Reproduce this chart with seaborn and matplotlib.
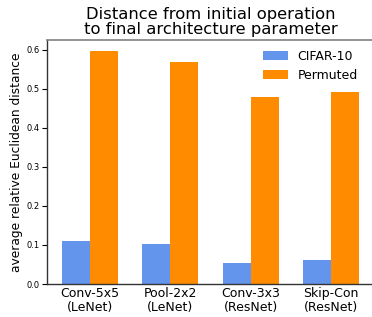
import matplotlib
matplotlib.use("Agg")
import matplotlib.pyplot as plt
import seaborn as sns
import pandas as pd

categories = ["Conv-5x5\n(LeNet)", "Pool-2x2\n(LeNet)", "Conv-3x3\n(ResNet)", "Skip-Con\n(ResNet)"]
series_names = ["CIFAR-10", "Permuted"]
cifar_values = [0.110, 0.102, 0.054, 0.062]
permuted_values = [0.598, 0.568, 0.480, 0.492]
y_ticks = [0.0, 0.1, 0.2, 0.3, 0.4, 0.5, 0.6]

df = pd.DataFrame({
    "cat": categories * 2,
    "series": [series_names[0]] * 4 + [series_names[1]] * 4,
    "value": cifar_values + permuted_values,
})

sns.set_style("white", rc={"text.color": "black", "axes.labelcolor": "black",
                           "xtick.color": "black", "ytick.color": "black"})
plt.rcParams['font.family'] = ['DejaVu Sans']

fig = plt.figure(figsize=(3.72, 3.17), dpi=100)
ax = fig.add_axes([47/372, 33/317, 327/372, 244/317])

sns.barplot(data=df, x="cat", y="value", hue="series", order=categories,
            hue_order=series_names, palette=["#6495ED", "#FF8C00"],
            width=0.7, saturation=1, errorbar=None, linewidth=0, ax=ax)

ax.set_xlim(-0.534, 3.534)
ax.set_ylim(0, 0.6256)
ax.set_yticks(y_ticks)
ax.set_yticklabels([f"{t:.1f}" for t in y_ticks], fontsize=6)
ax.tick_params(axis='y', left=True, length=3.5, width=0.8, pad=1.5, colors='black')
ax.tick_params(axis='x', bottom=False, length=0, labelsize=9, pad=2.5, colors='black')
for lbl in ax.get_xticklabels():
    lbl.set_linespacing(1.05)
ax.set_xlabel("")
ax.set_ylabel("average relative Euclidean distance", fontsize=8.8, labelpad=2.5, color="black")
ax.set_title("Distance from initial operation\nto final architecture parameter",
             fontsize=11.8, pad=4, linespacing=1.05, color="black")

for s in ["left", "bottom"]:
    ax.spines[s].set_color("#333333")
    ax.spines[s].set_linewidth(1.0)
ax.spines["top"].set_color("#808080")
ax.spines["top"].set_linewidth(1.2)
ax.spines["right"].set_visible(False)

leg = ax.legend(loc="upper right", frameon=False, fontsize=9,
                bbox_to_anchor=(0.966, 0.98), borderaxespad=0)
for t in leg.get_texts():
    t.set_color("black")

fig.savefig("out.png", dpi=100)
